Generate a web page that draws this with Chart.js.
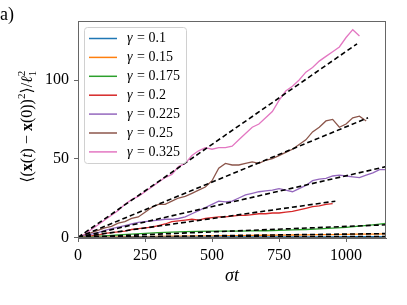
<!DOCTYPE html>
<html>
<head>
<meta charset="utf-8">
<script src="https://cdn.jsdelivr.net/npm/chart.js@4"></script>
<style>
html,body{margin:0;padding:0;background:#fff;}
#wrap{width:407px;height:305px;}
</style>
</head>
<body>
<div id="wrap"><canvas id="c" width="407" height="305"></canvas></div>
<script>
// time grids
const T25=[0,25,50,75,100,125,150,175,200,225,250,275,300,325,350,375,400,425,450,475,500,525,550,575,600,625,650,675,700,725,750,775,800,825,850,875,900,925,950,975,1000,1025,1050,1075,1100,1125,1150];
const T50=[0,50,100,150,200,250,300,350,400,450,500,550,600,650,700,750,800,850,900,950,1000,1050,1100,1150];

const gammas=["0.1","0.15","0.175","0.2","0.225","0.25","0.325"];
const colors=["#1f77b4","#ff7f0e","#2ca02c","#d62728","#9467bd","#8c564b","#e377c2"];

// msd values
const msdBlue=[0,0.02,0.05,0.06,0.08,0.1,0.13,0.14,0.16,0.19,0.2,0.22,0.24,0.26,0.27,0.29,0.32,0.33,0.35,0.37,0.4,0.41,0.43,0.45];
const msdOrange=[0,0.1,0.2,0.3,0.4,0.5,0.6,0.7,0.8,0.9,1.0,1.1,1.15,1.25,1.35,1.45,1.5,1.6,1.7,1.8,1.9,2.0,2.1,2.2];
const msdGreen=[0,0.5,1,1.5,2,2.5,3,3.3,3.6,3.8,4,4,4,4.1,4.2,4.4,4.7,5.0,5.4,5.9,6.4,7.2,8.0,8.9];
const msdRed=[0,0.5,1,1.5,2.5,3,3.5,4,5,5.5,6,6.5,7.5,8.5,10,10.5,11,11.5,11,12,12.5,13,13,13.5,14,14,14.5,15,15,15.5,15.5,16,16.5,17.5,18.5,19.5,20,21,21.5];
const msdPurple=[0,1,2,3,4.5,5.5,6.5,7.5,8.5,9.5,10,10.5,11,11.5,11.5,12,13,15,17,19,21,23,22.5,23,25,27,28,29,29.5,30,31,30,29,31,33,36,37,37.5,39,39.5,39,38.5,38,39.5,41,43,43];
const msdBrown=[0,1.5,3,4.5,6,7,9,10,12,13,16,19,21,21,23,25,26,28,30,32,36,44,47,46,46,47,48,47,49,50,52,54,56,59,62,67,70,74,75,70,72,76,77,74];
const msdPink=[0,2,5,8,11,14,17,21,24,26,29,32,35,38,40,45,47,52,55,57,56,57,57,58,62,66,70,72,76,80,87,93,96,100,105,108,112,115,118,121,127,132,128];

// end points of the dashed linear fits (all start at 0,0)
const fitT=[1150,1150,1150,960,1150,1082,1041];
const fitY=[0.6,2.4,8,23,45,76,123];

const xTicks=[0,250,500,750,1000];
const yTicks=[0,50,100];

const series=[[T50,msdBlue],[T50,msdOrange],[T50,msdGreen],[T25,msdRed],[T25,msdPurple],[T25,msdBrown],[T25,msdPink]];
const SERIF="'Liberation Serif','DejaVu Serif',serif";

const datasets=[];
series.forEach(([t,v],i)=>{
  datasets.push({label:"γ = "+gammas[i],data:v.map((y,k)=>({x:t[k],y})),borderColor:colors[i],borderWidth:1.3,pointRadius:0,fill:false,tension:0,order:1});
});
fitT.forEach((t,i)=>{
  datasets.push({label:"fit"+i,data:[{x:0,y:0},{x:t,y:fitY[i]}],borderColor:"#000",borderWidth:1.6,borderDash:[5,3],pointRadius:0,fill:false,order:0});
});

function drawSegs(ctx,segs,x,y,rot){
  let w=0; segs.forEach(s=>{ctx.font=s.f; s.w=ctx.measureText(s.t).width; w+=s.w+(s.gap||0);});
  ctx.save(); ctx.translate(x,y); ctx.rotate(rot);
  let cx=-w/2; ctx.textBaseline="alphabetic"; ctx.textAlign="left"; ctx.fillStyle="#000";
  segs.forEach(s=>{ctx.font=s.f; ctx.fillText(s.t,cx,s.dy||0); if(!s.nx) cx+=s.w+(s.gap||0);});
  ctx.restore();
}

const decor={
  id:"decor",
  afterDraw(ch){
    const ctx=ch.ctx, a=ch.chartArea;
    ctx.save();
    ctx.strokeStyle="#666"; ctx.lineWidth=1;
    ctx.strokeRect(a.left+0.5,a.top+0.5,a.right-a.left-1,a.bottom-a.top-1);
    // legend
    const lx=84.5, ly=27.5, lw=102, lh=136;
    ctx.fillStyle="rgba(255,255,255,0.85)"; ctx.strokeStyle="#d0d0d0";
    ctx.beginPath(); ctx.roundRect(lx,ly,lw,lh,3); ctx.fill(); ctx.stroke();
    gammas.forEach((g,i)=>{
      const y=38.5+i*18.9;
      ctx.strokeStyle=colors[i]; ctx.lineWidth=1.5;
      ctx.beginPath(); ctx.moveTo(89,y); ctx.lineTo(117,y); ctx.stroke();
      ctx.fillStyle="#000"; ctx.textBaseline="middle"; ctx.textAlign="left";
      ctx.font="italic 14px "+SERIF; ctx.fillText("γ",127,y);
      const gw=ctx.measureText("γ").width;
      ctx.font="14px "+SERIF; ctx.fillText(" = "+g,127+gw+1,y);
    });
    // axis titles
    drawSegs(ctx,[{t:"σ",f:"italic 18px "+SERIF},{t:"t",f:"italic 18px "+SERIF}],232,281,0);
    const R="16px "+SERIF, B="bold 16px "+SERIF, I="italic 16px "+SERIF, S="11px "+SERIF;
    drawSegs(ctx,[
      {t:"⟨(",f:R},{t:"x",f:B},{t:"(",f:R},{t:"t",f:I},{t:") − ",f:R},{t:"x",f:B},{t:"(0))",f:R},
      {t:"2",f:S,dy:-7},{t:"⟩/",f:R},{t:"ℓ",f:I},{t:"2",f:S,dy:-7,nx:true},{t:"1",f:S,dy:4}
    ],32,124,-Math.PI/2);
    ctx.font="18px "+SERIF; ctx.textBaseline="alphabetic"; ctx.textAlign="left"; ctx.fillStyle="#000";
    ctx.fillText("a)",0,20);
    ctx.restore();
  }
};

new Chart(document.getElementById("c"),{
  type:"line",
  data:{datasets},
  options:{
    responsive:false,animation:false,
    layout:{padding:{left:0,top:21,right:21,bottom:0}},
    plugins:{legend:{display:false},tooltip:{enabled:false}},
    scales:{
      x:{type:"linear",min:0,max:1149,
        afterFit:s=>{s.height=67;},
        afterBuildTicks:s=>{s.ticks=xTicks.map(v=>({value:v}));},
        grid:{drawOnChartArea:false,tickLength:4,color:"#666"},
        border:{color:"#666"},
        ticks:{font:{family:SERIF,size:16},color:"#000",padding:4,maxRotation:0,callback:v=>String(v)}},
      y:{type:"linear",min:-0.4,max:137.5,
        afterFit:s=>{s.width=78;},
        afterBuildTicks:s=>{s.ticks=yTicks.map(v=>({value:v}));},
        grid:{drawOnChartArea:false,tickLength:4,color:"#666"},
        border:{color:"#666"},
        ticks:{font:{family:SERIF,size:16},color:"#000",padding:5,callback:v=>String(v)}}
    }
  },
  plugins:[decor]
});
</script>
</body>
</html>
